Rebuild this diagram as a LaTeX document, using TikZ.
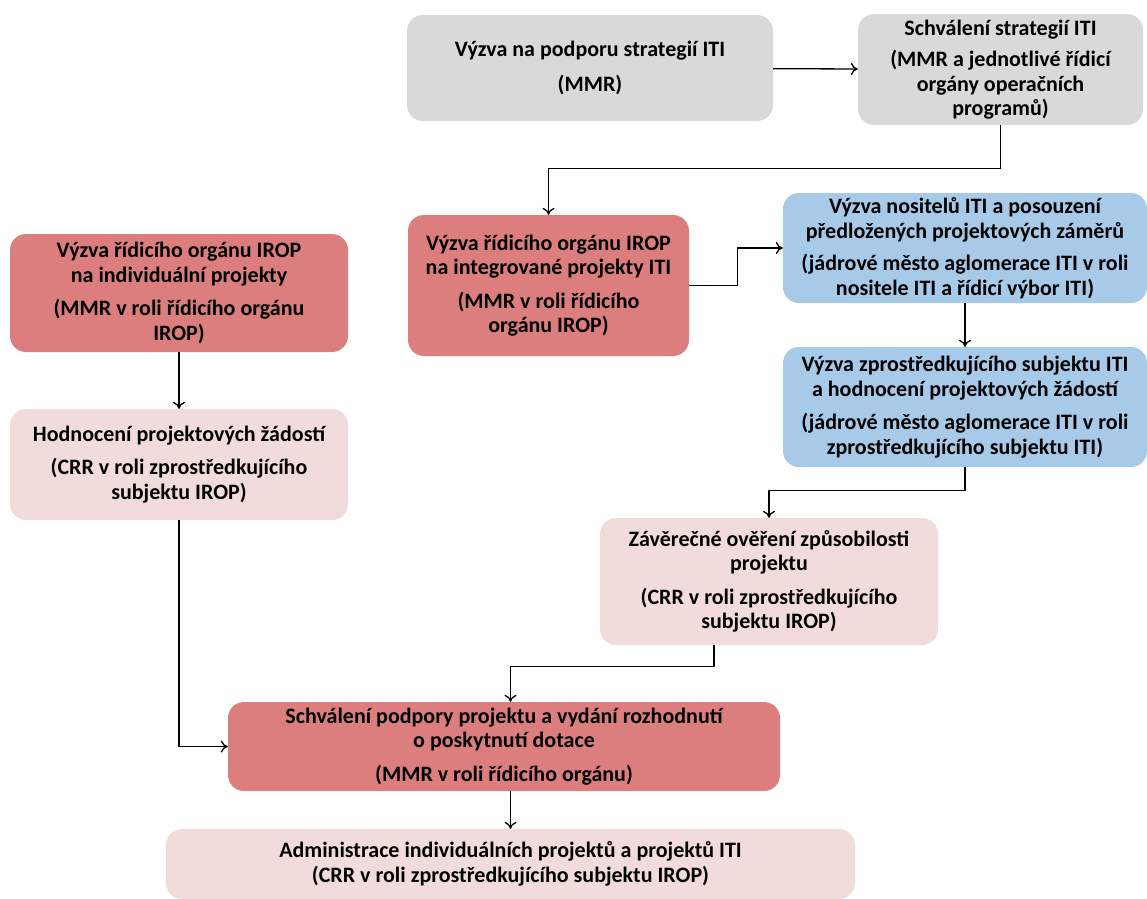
\documentclass[tikz,border=0pt]{standalone}
\usepackage{fontspec}
\setmainfont{Carlito}
\usetikzlibrary{arrows,arrows.meta,shapes}

\definecolor{stepgray}{RGB}{217,217,217}
\definecolor{stepred}{RGB}{220,126,125}
\definecolor{steppink}{RGB}{242,220,219}
\definecolor{stepblue}{RGB}{166,202,232}

\begin{document}
\begin{tikzpicture}
  [x=1pt,y=-1pt,
   every node/.style={rounded corners=16pt,align=center,inner sep=0pt,
     font=\fontsize{22}{24.5}\selectfont\bfseries},
   gray/.style={fill=stepgray},
   red/.style={fill=stepred},
   pink/.style={fill=steppink},
   blue/.style={fill=stepblue},
   arr/.style={line width=1.3pt,arrows={-{To[length=7pt,width=12pt]}}}]
  \useasboundingbox (0,0) rectangle (1147,898);

  \node[gray,minimum width=366pt,minimum height=106pt] (v1) at (590,68)
    {V\'yzva na podporu strategi\'i ITI\\[10pt](MMR)};
  \node[gray,minimum width=285pt,minimum height=111pt] (s2) at (1000.5,69.5)
    {Schv\'alen\'i strategi\'i ITI\\[7pt](MMR a jednotliv\'e \v{r}\'idic\'i\\org\'any opera\v{c}n\'ich\\program\r{u})};
  \node[red,minimum width=281pt,minimum height=141pt] (i3) at (548.5,285.5)
    {V\'yzva \v{r}\'idic\'iho org\'anu IROP\\na integrovan\'e projekty ITI\\[9pt](MMR v roli \v{r}\'idic\'iho\\org\'anu IROP)};
  \node[blue,minimum width=364pt,minimum height=110pt] (n4) at (965,248)
    {V\'yzva nositel\r{u} ITI a posouzen\'i\\p\v{r}edlo\v{z}en\'ych projektov\'ych z\'am\v{e}r\r{u}\\[8pt](j\'adrov\'e m\v{e}sto aglomerace ITI v roli\\nositele ITI a \v{r}\'idic\'i v\'ybor ITI)};
  \node[blue,minimum width=364pt,minimum height=120pt] (z5) at (965,407)
    {V\'yzva zprost\v{r}edkuj\'ic\'iho subjektu ITI\\a hodnocen\'i projektov\'ych \v{z}\'adost\'i\\[9pt](j\'adrov\'e m\v{e}sto aglomerace ITI v roli\\zprost\v{r}edkuj\'ic\'iho subjektu ITI)};
  \node[pink,minimum width=338pt,minimum height=127pt] (o6) at (769,581.5)
    {Z\'av\v{e}re\v{c}n\'e ov\v{e}\v{r}en\'i zp\r{u}sobilosti\\projektu\\[9pt](CRR v roli zprost\v{r}edkuj\'ic\'iho\\subjektu IROP)};
  \node[red,minimum width=338pt,minimum height=118pt] (v7) at (179,293)
    {V\'yzva \v{r}\'idic\'iho org\'anu IROP\\na individu\'aln\'i projekty\\[9pt](MMR v roli \v{r}\'idic\'iho org\'anu\\IROP)};
  \node[pink,minimum width=338pt,minimum height=111pt] (h8) at (179,464.5)
    {Hodnocen\'i projektov\'ych \v{z}\'adost\'i\\[9pt](CRR v roli zprost\v{r}edkuj\'ic\'iho\\subjektu IROP)};
  \node[red,minimum width=552pt,minimum height=89pt] (sp9) at (504,746.5)
    {Schv\'alen\'i podpory projektu a vyd\'an\'i rozhodnut\'i\\o poskytnut\'i dotace\\[9pt](MMR v roli \v{r}\'idic\'iho org\'anu)};
  \node[pink,minimum width=689pt,minimum height=70pt] (a10) at (510.5,864)
    {Administrace individu\'aln\'ich projekt\r{u} a projekt\r{u} ITI\\(CRR v roli zprost\v{r}edkuj\'ic\'iho subjektu IROP)};

  \draw[arr] (v1) to (s2);
  \draw[arr] (s2.south) -- ++(0,43) -| (i3.north);
  \draw[arr] (i3.east) -- ++(48,0) |- (n4.west);
  \draw[arr] (n4) to (z5);
  \draw[arr] (z5.south) -- ++(0,23) -| (o6.north);
  \draw[arr] ([xshift=-55pt]o6.south) -- ++(0,21) -| (a10.north |- sp9.north);
  \draw[arr] (v7) to (h8);
  \draw[arr] (h8.south) |- (sp9.west);
  \draw[arr] (a10.north |- sp9.south) -- (a10.north);
\end{tikzpicture}
\end{document}
